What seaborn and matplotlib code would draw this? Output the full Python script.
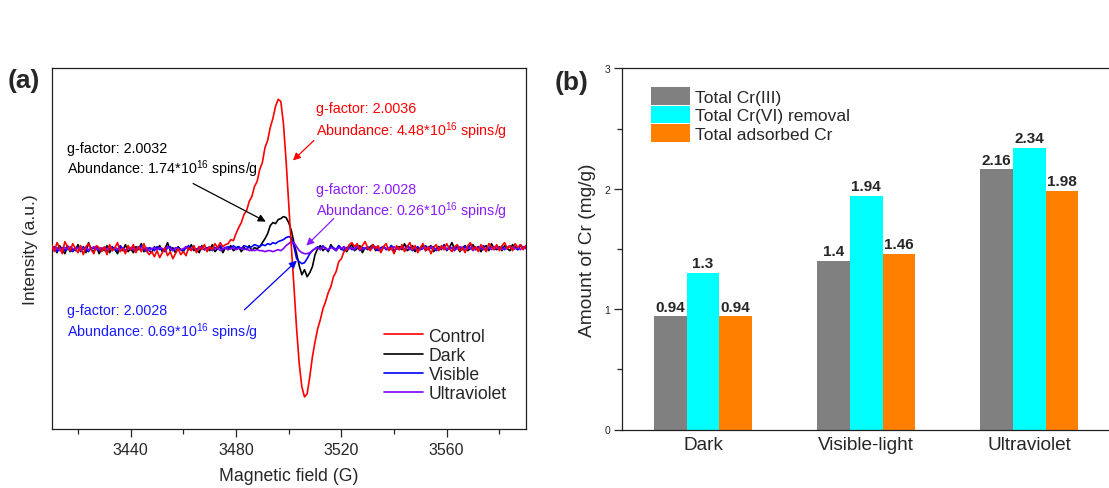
import numpy as np
import pandas as pd
import matplotlib
matplotlib.use("Agg")
import matplotlib.pyplot as plt
from matplotlib.ticker import MultipleLocator
import seaborn as sns

# ---------------- EPR spectra (panel a) ----------------
field_start, field_stop, field_step = 3410, 3590, 1
field = np.arange(field_start, field_stop + field_step, field_step)

control = [
    4, -3, 6, 1, -5, 7, 2, -2, 5, 0,
    -4, 3, -6, 2, 5, -1, -5, 3, 1, -3,
    2, -6, 4, -2, 1, 6, -3, 0, -5, 3,
    -1, 4, -4, 2, -3, 5, -2, -6, -3, -8,
    -2, -9, -4, 1, -7, -3, -10, -5, 0, -6,
    -3, -7, 1, -2, 3, -4, 2, -1, 4, -3,
    2, -1, 5, 1, 6, 2, 4,
    5, 9, 8, 15, 21, 26, 34, 38, 47, 52,
    62, 67, 79, 86, 101, 108, 121, 130, 142, 149,
    147, 125, 88, 45, 2, -38, -80, -115, -138, -148,
    -145, -128, -108, -93, -80, -71, -60, -53, -44, -38,
    -28, -23, -13, -10, -3, -1, 4,
    6, 2, 5, -1, 3, 7, 1, -2, 4, 0,
    3, -4, 2, 5, -2, 1, -5, 3, -1, 4,
    -3, 2, 6, -1, 3, -4, 1, 5, -2, 2,
    -5, 1, 4, -2, 3, -1, 5, 0, -3, 2,
    4, -2, 1, -4, 3, 6, -1, 2, -3, 4,
    1, -3, 5, 2, -1, 4, -2, 3, 6, 0,
    3, -2, 5, 1, 4, -1, 3,
]

dark = [
    -2, 1, -4, 3, -1, -5, 2, -3, 0, -2,
    4, -3, 1, -4, 6, -1, -3, 2, -5, 0,
    -2, 3, -4, 1, -1, -5, 2, -2, 4, -3,
    0, -4, 2, -1, 5, -3, 1, -2, -4, 2,
    -1, 3, -3, 0, 6, -2, 1, -4, 2, -1,
    -3, 2, -1, 4, -2, 0, -4, 3, -1, 1,
    -2, 4, -3, 0, 2, -4, 1, -1, 3, -2,
    0, 2, -3, 1, -1, 3, -2, 1, 0,
    2, 6, 10, 15, 23, 26, 25, 29, 30, 32,
    31, 26, 18, 6, -5, -17, -26, -21, -28, -24,
    -18, -6, 0,
    3, -2, 1, -3, 4, 0, -2, 3, -1, 2,
    -3, 1, 4, -2, 0, 3, -4, 1, -1, 2,
    4, -2, 1, -3, 2, 0, -1, 3, -4, 1,
    2, -1, 5, -2, 0, 3, -3, 1, -1, 4,
    -2, 1, 3, -3, 0, 2, -1, 4, -2, 1,
    6, -1, 2, -3, 1, 3, -2, 0, 4, -1,
    2, -3, 1, 3, -2, 5, 0, -1, 2, -2,
    3, 0, -2, 4, 1, -1, 3, 0, 2,
]

visible = [
    -1, 2, -3, 0, 1, -2, 3, -1, -3, 1,
    0, -2, 2, -1, -3, 1, 0, 2, -2, -1,
    1, -3, 0, 2, -1, -2, 3, 0, -2, 1,
    -1, 2, -2, 0, 3, -1, -3, 1, 0, -2,
    2, -1, 0, -3, 1, 2, -2, 0, 1, -1,
    -2, 1, 3, -1, 0, -2, 2, 1, -1, 0,
    2, -2, 1, 0, 3, -1, 1, 2, 0, 3,
    1, 2, 0, 3, 2, 1,
    2, 4, 3, 2, 4, 3, 5, 4, 6, 5,
    7, 8, 9, 11, 12, 11, 2, -10, -13, -15,
    -14, -10, -5, -2, 0,
    2, -1, 3, 0, -2, 2, 1, -1, 3, 0,
    -2, 1, 2, -1, 0, 3, -2, 1, 0, 2,
    -1, 3, 0, -2, 1, 2, -1, 0, 3, -2,
    1, 0, 2, -1, 3, 1, -2, 0, 2, -1,
    0, 3, -1, 1, 2, -2, 0, 1, 3, -1,
    2, 0, -2, 3, 1, -1, 2, 0, 4, 1,
    -1, 2, 0, 3, -2, 1, 2, -1, 3, 0,
    2, -1, 1, 3, 0, 2, -1, 4, 1, 2,
]

ultraviolet = [
    0, -1, 1, -2, 0, 1, -1, 2, 0, -1,
    1, -2, 0, 1, -1, 0, 2, -1, 0, 1,
    -1, 0, 2, -2, 1, 0, -1, 1, -2, 0,
    1, -1, 0, 2, -1, 0, 1, -2, 0, 1,
    -1, 1, 0, -1, 2, 0, -2, 1, 0, -1,
    0, 2, -1, 0, 1, -1, 0, 2, -1, 0,
    1, -1, 0, 1, -2, 0, 1, -1, 0, 1,
    -1, 0, 1, -1, 0, -2, -1, -2, -1, -2,
    -2, -3, -2, -2, -3, -2, -1, -2, 0, 3,
    5, 7, 6, 2, -2, -4, -5, -5, -4, -2, 0,
    1, -1, 2, 0, -1, 1, 0, -2, 1, 0,
    2, -1, 0, 1, -1, 2, 0, -1, 1, 0,
    -1, 1, 2, 0, -2, 1, 0, 1, -1, 2,
    0, -1, 1, 0, 2, -1, 0, 1, -2, 0,
    1, 0, -1, 2, 0, -1, 1, 0, 2, -1,
    0, 1, -1, 0, 2, 1, -1, 0, 1, -2,
    1, 0, 2, -1, 0, 1, -1, 2, 0, 1,
    -1, 0, 1, 2, -1, 0, 1, -1, 2, 0,
]

sample_names = ["Control", "Dark", "Visible", "Ultraviolet"]
sample_colors = ["#ff0000", "#000000", "#0000ff", "#8000ff"]

# ---------------- Cr amounts (panel b) ----------------
conditions = ["Dark", "Visible-light", "Ultraviolet"]
metrics = ["Total Cr(III)", "Total Cr(VI) removal", "Total adsorbed Cr"]
cr_iii = [0.94, 1.4, 2.16]
cr_vi_removal = [1.3, 1.94, 2.34]
adsorbed_cr = [0.94, 1.46, 1.98]
bar_colors = ["#808080", "#00ffff", "#ff8000"]

# ---------------- styling ----------------
sns.set_style("ticks")
plt.rcParams["font.family"] = ["Liberation Sans", "DejaVu Sans"]
plt.rcParams["mathtext.default"] = "regular"
plt.rcParams["axes.edgecolor"] = "#202020"
plt.rcParams["axes.linewidth"] = 0.9

W, H = 1109, 489
fig = plt.figure(figsize=(W / 100, H / 100), dpi=100)
fig.patch.set_facecolor("white")

def box(l, t, r, b):
    return [l / W, (H - b) / H, (r - l) / W, (b - t) / H]

ax1 = fig.add_axes(box(51.7, 69.3, 525.7, 430))
ax2 = fig.add_axes(box(621.5, 69.3, 1111, 430.5))

# ---------------- panel (a) ----------------
spectra = pd.DataFrame({
    "field": np.tile(field, 4),
    "intensity": np.concatenate([control, dark, visible, ultraviolet]),
    "sample": np.repeat(sample_names, len(field)),
})
sns.lineplot(data=spectra, x="field", y="intensity", hue="sample",
             hue_order=sample_names, palette=sample_colors,
             estimator=None, sort=False, linewidth=1.2, ax=ax1)
for line, z in zip(ax1.get_lines()[:4], [5, 2, 3, 4]):
    line.set_zorder(z)

ax1.set_xlim(3410, 3590)
ax1.set_ylim(-180, 180)
ax1.set_yticks([])
ax1.xaxis.set_major_locator(MultipleLocator(40))
ax1.xaxis.set_minor_locator(MultipleLocator(20))
ax1.tick_params(axis="x", which="major", length=6, width=0.9, labelsize=11.5, pad=3.5)
ax1.tick_params(axis="x", which="minor", length=3.5, width=0.9)
ax1.set_xlabel("Magnetic field (G)", fontsize=12.7, labelpad=7)
ax1.set_ylabel("Intensity (a.u.)", fontsize=12.5, labelpad=10)
for s in ax1.spines.values():
    s.set_visible(True)

old = ax1.get_legend()
handles = old.legend_handles
labels = [t.get_text() for t in old.get_texts()]
old.remove()
ax1.legend(handles, labels, loc="upper left", bbox_to_anchor=(0.701, 0.281),
           frameon=False, fontsize=12.7, handlelength=2.2, handletextpad=0.32,
           labelspacing=0.12, borderpad=0, borderaxespad=0)

ann_fs = 10.3
notes = [
    (3510.3, 140, 118, "g-factor: 2.0036", "4.48", "#ff0000"),
    (3415.8, 100, 80, "g-factor: 2.0032", "1.74", "#000000"),
    (3510.3, 60, 38, "g-factor: 2.0028", "0.26", "#8a1cff"),
    (3415.8, -61, -82, "g-factor: 2.0028", "0.69", "#1a1aff"),
]
for gx, y1, y2, gtxt, ab, col in notes:
    ax1.text(gx, y1, gtxt, color=col, fontsize=ann_fs, va="center", ha="left")
    ax1.text(gx, y2, "Abundance: " + ab + r"*10$^{16}$ spins/g", color=col,
             fontsize=ann_fs, va="center", ha="left")

arrows = [
    ((3509.6, 108), (3501.6, 88), "#ff0000"),
    ((3463.7, 65), (3491.3, 27), "#000000"),
    ((3517.1, 30), (3506.7, 3), "#8a1cff"),
    ((3483.2, -61), (3503.1, -12), "#0000ff"),
]
for tail, tip, col in arrows:
    ax1.annotate("", xy=tip, xytext=tail,
                 arrowprops=dict(arrowstyle="-|>", color=col, lw=0.9,
                                 mutation_scale=11, shrinkA=0, shrinkB=0),
                 zorder=6)

# ---------------- panel (b) ----------------
amounts = pd.DataFrame({
    "condition": np.tile(conditions, 3),
    "metric": np.repeat(metrics, 3),
    "amount": cr_iii + cr_vi_removal + adsorbed_cr,
})
sns.barplot(data=amounts, x="condition", y="amount", hue="metric",
            order=conditions, hue_order=metrics, palette=bar_colors,
            saturation=1, width=0.6, errorbar=None, linewidth=0, ax=ax2)
for cont in ax2.containers:
    ax2.bar_label(cont, fmt="%g", padding=2, fontsize=11, fontweight="bold")

ax2.set_xlim(-0.5, 2.5)
ax2.set_ylim(0, 3)
ax2.set_yticks([0, 1, 2, 3])
ax2.yaxis.set_minor_locator(MultipleLocator(0.5))
ax2.tick_params(axis="y", which="major", length=6, width=0.9, labelsize=7.5, pad=2)
ax2.tick_params(axis="y", which="minor", length=3.5, width=0.9)
ax2.tick_params(axis="x", length=0, labelsize=13.7, pad=5)
ax2.set_xlabel("")
ax2.set_ylabel("Amount of Cr (mg/g)", fontsize=13.8, labelpad=6)
for s in ax2.spines.values():
    s.set_visible(True)

old = ax2.get_legend()
handles = old.legend_handles
labels = [t.get_text() for t in old.get_texts()]
old.remove()
ax2.legend(handles, labels, loc="upper left", bbox_to_anchor=(0.0596, 0.9474),
           frameon=False, fontsize=12.5, handlelength=2.25, handleheight=1.16,
           handletextpad=0.33, labelspacing=0.06, borderpad=0, borderaxespad=0)

fig.text(24 / W, 1 - 81 / H, "(a)", fontsize=19, fontweight="bold",
         ha="center", va="center")
fig.text(572 / W, 1 - 83 / H, "(b)", fontsize=19, fontweight="bold",
         ha="center", va="center")

fig.savefig("out.png", dpi=100, facecolor=fig.get_facecolor())
